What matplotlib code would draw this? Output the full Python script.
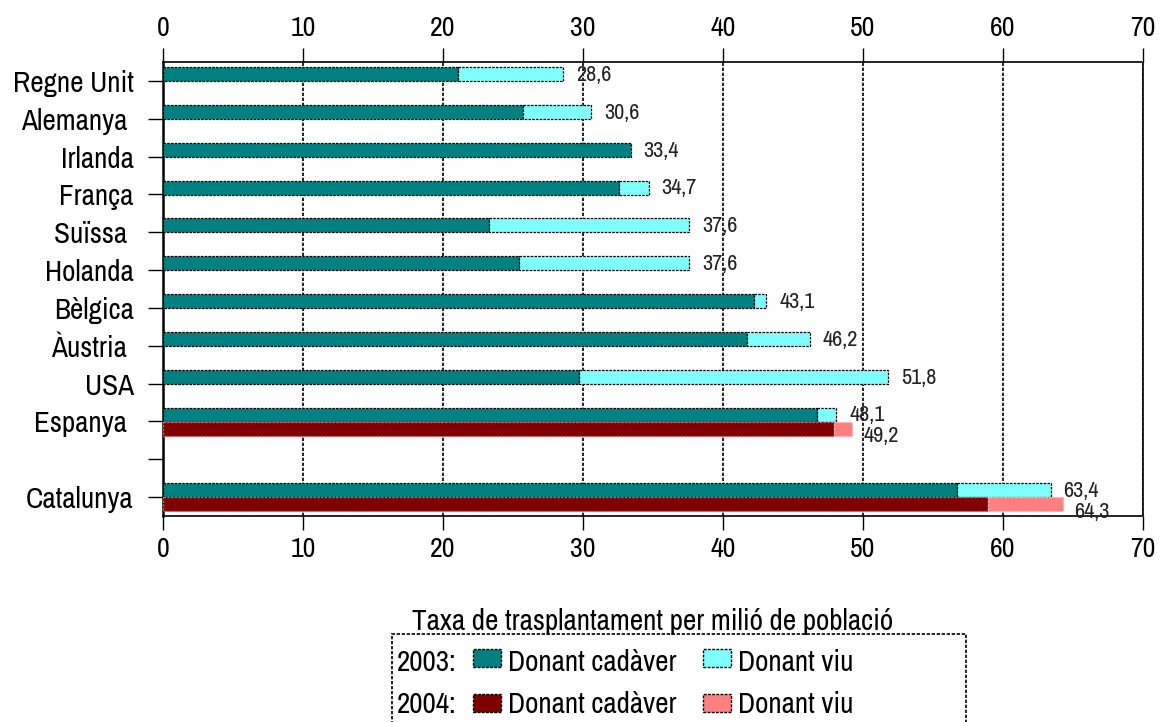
import matplotlib
matplotlib.use('Agg')
import matplotlib.pyplot as plt
from matplotlib.patches import Rectangle

# data (taxa per milió de població)
countries = ['Regne Unit', 'Alemanya ', 'Irlanda', 'França', 'Suïssa ', 'Holanda',
             'Bèlgica', 'Àustria ', 'USA', 'Espanya ', '', 'Catalunya']
cadaver_2003 = [21.1, 25.7, 33.4, 32.6, 23.3, 25.4, 42.2, 41.7, 29.7, 46.7, None, 56.7]
total_2003 = [28.6, 30.6, 33.4, 34.7, 37.6, 37.6, 43.1, 46.2, 51.8, 48.1, None, 63.4]
cadaver_2004 = [None, None, None, None, None, None, None, None, None, 47.9, None, 58.9]
total_2004 = [None, None, None, None, None, None, None, None, None, 49.2, None, 64.3]
xticks = [0, 10, 20, 30, 40, 50, 60, 70]

c_cad03, c_viu03 = '#008080', '#80ffff'
c_cad04, c_viu04 = '#800000', '#ff8080'
dash = (0, (2, 1))

plt.rcParams['font.family'] = ['Archivo Narrow', 'Liberation Sans', 'DejaVu Sans']
FS = 21

fig = plt.figure(figsize=(11.61, 7.22), dpi=100)
ax = fig.add_axes([0.1404, 0.2853, 0.8441, 0.6288])

h = 0.37
off03, off04 = -0.18, 0.19

for i in range(len(countries)):
    if total_2003[i] is not None:
        y = i + off03
        cad = cadaver_2003[i]
        viu = total_2003[i] - cad
        ax.barh(y, cad, height=h, color=c_cad03, edgecolor='black', lw=0.9, ls=dash, zorder=3)
        if viu > 0.05:
            ax.barh(y, viu, left=cad, height=h, color=c_viu03, edgecolor='black', lw=0.9, ls=dash, zorder=3)
        ax.text(total_2003[i] + 0.9, y + 0.02, f'{total_2003[i]:.1f}'.replace('.', ','),
                fontsize=16, va='center', ha='left', color='#222222', zorder=5)
    if total_2004[i] is not None:
        y = i + off04
        cad = cadaver_2004[i]
        viu = total_2004[i] - cad
        ax.barh(y, cad, height=h, color=c_cad04, edgecolor='#d06060', lw=0.9, ls=dash, zorder=3)
        ax.barh(y, viu, left=cad, height=h, color=c_viu04, edgecolor='#ffb0b0', lw=0.9, ls=dash, zorder=3)
        ax.text(total_2004[i] + 0.8, y + 0.2, f'{total_2004[i]:.1f}'.replace('.', ','),
                fontsize=16, va='center', ha='left', color='#222222', zorder=5)

ax.set_xlim(0, 70)
ax.set_ylim(len(countries) - 0.5, -0.5)
ax.set_xticks(xticks)
ax.set_yticks(range(len(countries)))
ax.set_yticklabels(countries, fontsize=FS)
ax.tick_params(axis='x', top=True, labeltop=True, bottom=True, labelbottom=True,
               direction='out', length=10, width=1, labelsize=20, pad=5)
ax.tick_params(axis='y', direction='out', length=11, width=1, pad=10)

ax.grid(axis='x', color='black', ls=dash, lw=1.2, zorder=1)
for s in ['top', 'bottom', 'right']:
    ax.spines[s].set_linestyle(dash)
    ax.spines[s].set_linewidth(1.2)
ax.spines['left'].set_linewidth(1.8)

fig.text(0.5624, 0.139, 'Taxa de trasplantament per milió de població',
         ha='center', va='center', fontsize=FS)

# legend box
fig.patches.append(Rectangle((0.3376, -0.05), 0.4944, 0.172, transform=fig.transFigure,
                             fill=False, edgecolor='black', lw=1.2, ls=dash))
rows = [('2003:', c_cad03, c_viu03, 0.0831, 0.0762), ('2004:', c_cad04, c_viu04, 0.0249, 0.0139)]
for lab, ca, cv, yt, yb in rows:
    fig.text(0.342, yt, lab, fontsize=FS, va='center', ha='left')
    fig.patches.append(Rectangle((0.4074, yb), 0.0241, 0.0249, transform=fig.transFigure,
                                 facecolor=ca, edgecolor='black', lw=1, ls=dash))
    fig.text(0.4376, yt, 'Donant cadàver', fontsize=FS, va='center', ha='left')
    fig.patches.append(Rectangle((0.6055, yb), 0.0241, 0.0249, transform=fig.transFigure,
                                 facecolor=cv, edgecolor='black', lw=1, ls=dash))
    fig.text(0.6357, yt, 'Donant viu', fontsize=FS, va='center', ha='left')

fig.savefig('out.png', dpi=100)
